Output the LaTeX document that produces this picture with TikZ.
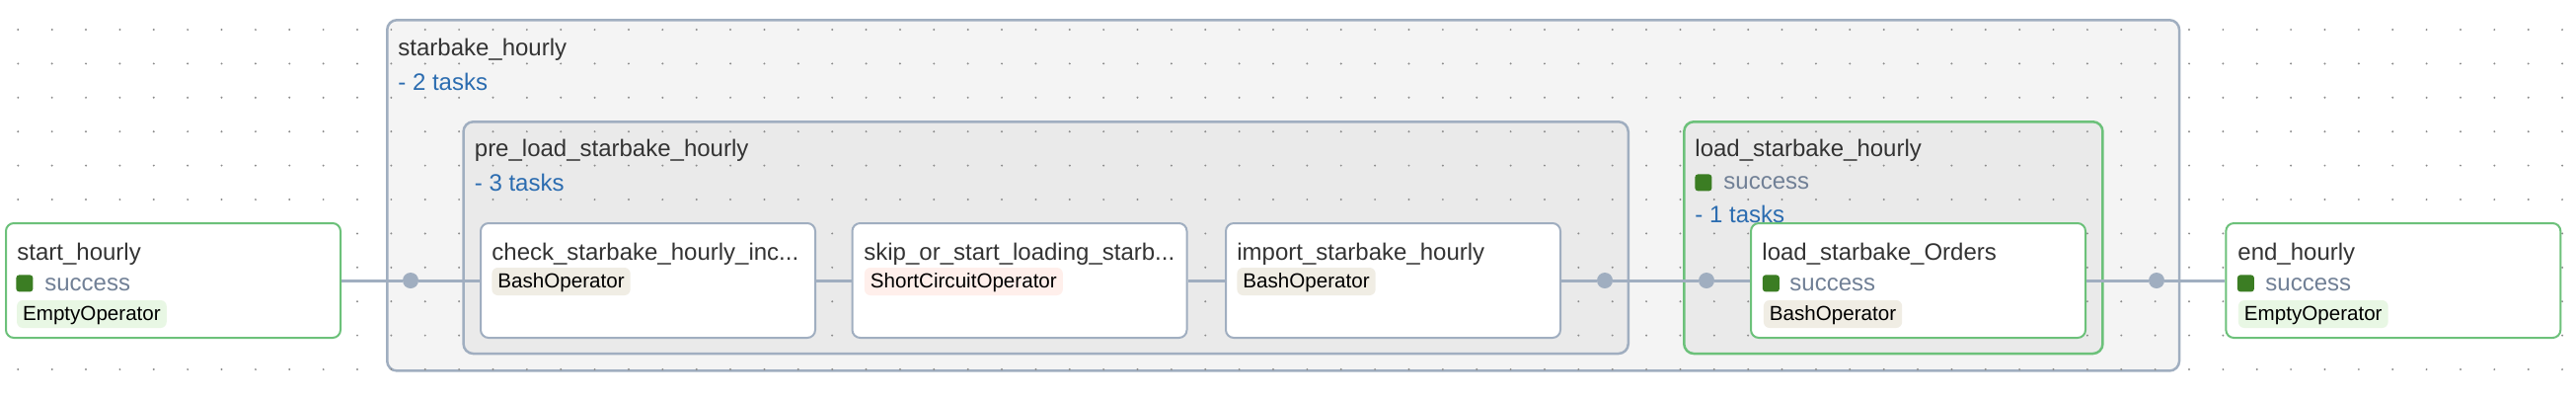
\documentclass[tikz,border=0pt]{standalone}
\usepackage{fontspec}
\setmainfont{Liberation Sans}
\definecolor{edgegray}{HTML}{A0AEC0}
\definecolor{okgreen}{HTML}{6CC17A}
\definecolor{okfill}{HTML}{3B7D23}
\definecolor{oktext}{HTML}{718096}
\definecolor{taskblue}{HTML}{2B6CB0}
\definecolor{titlegray}{HTML}{333333}
\definecolor{outerfill}{HTML}{F4F4F4}
\definecolor{innerfill}{HTML}{EAEAEA}
\definecolor{emptyop}{HTML}{E8F7E4}
\definecolor{bashop}{HTML}{F0EDE4}
\definecolor{shortop}{HTML}{FFEFEB}
\definecolor{griddot}{HTML}{8C8C8C}
\tikzset{
  group/.style={draw=edgegray,line width=1.25pt,rounded corners=5pt,inner sep=0pt},
  task/.style={draw=edgegray,fill=white,line width=1pt,rounded corners=4pt,inner sep=0pt,
    minimum width=169.5pt,minimum height=58pt},
  done/.style={draw=okgreen},
  title/.style={anchor=base west,inner sep=0pt,text=titlegray,font=\fontsize{12}{14}\selectfont},
  state/.style={anchor=base west,inner sep=0pt,text=oktext,font=\fontsize{12}{14}\selectfont},
  ntasks/.style={anchor=base west,inner sep=0pt,text=taskblue,font=\fontsize{12}{14}\selectfont},
  badge/.style={anchor=base west,inner xsep=3pt,inner ysep=0pt,text height=10pt,text depth=4pt,
    rounded corners=3pt,text=black,font=\fontsize{10.3}{12}\selectfont},
  okbox/.style={anchor=north west,fill=okfill,rounded corners=1.5pt,minimum size=8.5pt,inner sep=0pt},
  joint/.style={circle,fill=edgegray,minimum size=8pt,inner sep=0pt}
}

\begin{document}
\begin{tikzpicture}[x=0.5pt,y=-0.5pt]
\useasboundingbox[fill=white] (0,0) rectangle (2610,404);
% task groups
\node[group,fill=outerfill,minimum width=907.9pt,minimum height=177.6pt] (starbake) at (1300.15,197.85) {};
\node[group,fill=innerfill,minimum width=590.1pt,minimum height=117.4pt] (preload) at (1059.65,240.65) {};
\node[group,done,fill=innerfill,minimum width=212.1pt,minimum height=117.4pt] (loadgrp) at (1918.35,240.65) {};
% background dots
\foreach \i in {0,...,75}
  \foreach \j in {0,...,10}
    \fill[griddot] (18.3+34.37*\i,30+34.4*\j) circle (0.55pt);
\node[title] (starbake-t) at (403,56) {starbake\_hourly};
\node[ntasks] (starbake-n) at (403,91) {- 2 tasks};
\node[title] (preload-t) at (480.5,158) {pre\_load\_starbake\_hourly};
\node[ntasks] (preload-n) at (480.5,193) {- 3 tasks};
\node[title] (loadgrp-t) at (1717,158) {load\_starbake\_hourly};
\node[okbox] (loadgrp-s) at (1717,176) {};
\node[state] (loadgrp-st) at (1746,191) {success};
\node[ntasks] (loadgrp-n) at (1717,225) {- 1 tasks};
% tasks
\node[task,done] (start) at (175.5,284) {};
\node[task] (check) at (656.5,284) {};
\node[task] (skip) at (1033,284) {};
\node[task] (import) at (1411.5,284) {};
\node[task,done] (loadorders) at (1943.5,284) {};
\node[task,done] (end) at (2424.8,284) {};
\node[title] (start-t) at (17,263) {start\_hourly};
\node[okbox] (start-s) at (16,278) {};
\node[state] (start-st) at (45,294) {success};
\node[badge,fill=emptyop] (start-b) at (16.7,324) {EmptyOperator};
\node[title] (check-t) at (498,263) {check\_starbake\_hourly\_inc...};
\node[badge,fill=bashop] (check-b) at (498,291) {BashOperator};
\node[title] (skip-t) at (875,263) {skip\_or\_start\_loading\_starb...};
\node[badge,fill=shortop] (skip-b) at (875.5,291) {ShortCircuitOperator};
\node[title] (import-t) at (1253,263) {import\_starbake\_hourly};
\node[badge,fill=bashop] (import-b) at (1253,291) {BashOperator};
\node[title] (loadorders-t) at (1785,263) {load\_starbake\_Orders};
\node[okbox] (loadorders-s) at (1785.5,278) {};
\node[state] (loadorders-st) at (1813,294) {success};
\node[badge,fill=bashop] (loadorders-b) at (1786.5,324) {BashOperator};
\node[title] (end-t) at (2267,263) {end\_hourly};
\node[okbox] (end-s) at (2266.5,278) {};
\node[state] (end-st) at (2295,294) {success};
\node[badge,fill=emptyop] (end-b) at (2267.5,324) {EmptyOperator};
% group joints
\node[joint] (j1) at (416,284) {};
\node[joint] (j2) at (1626,284) {};
\node[joint] (j3) at (1729,284) {};
\node[joint] (j4) at (2185,284) {};
\begin{scope}[every edge/.style={draw=edgegray,line width=1.5pt}]
    \path (start) edge (j1);
    \path (j1) edge (check);
    \path (check) edge (skip);
    \path (skip) edge (import);
    \path (import) edge (j2);
    \path (j2) edge (j3);
    \path (j3) edge (loadorders);
    \path (loadorders) edge (j4);
    \path (j4) edge (end);
\end{scope}
\end{tikzpicture}
\end{document}
